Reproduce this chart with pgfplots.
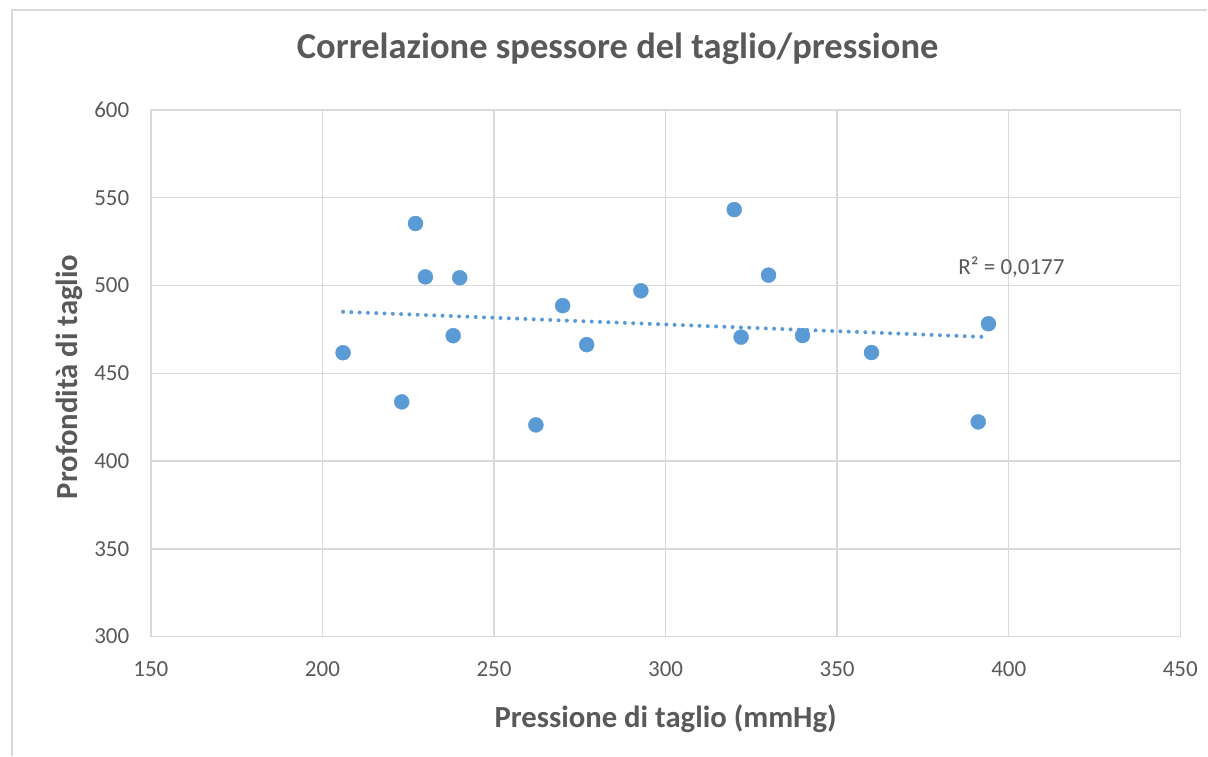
\documentclass[border=0pt]{standalone}
\usepackage{pgfplots}
\pgfplotsset{compat=1.18}
\usepackage{fontspec}
\setmainfont{Carlito}
\definecolor{txt}{HTML}{595959}
\definecolor{grd}{HTML}{D9D9D9}
\definecolor{blu}{HTML}{5B9BD5}
\begin{document}
\begin{tikzpicture}
\begin{axis}[
  scale only axis, width=1030pt, height=527pt,
  xmin=150, xmax=450, ymin=300, ymax=600,
  xtick={150,200,...,450}, ytick={300,350,...,600},
  grid=major, major grid style={grd, line width=1.5pt},
  axis line style={grd, line width=1.5pt},
  tick style={draw=none},
  /pgf/number format/assume math mode=true,
  ticklabel style={font=\fontsize{23}{27}\selectfont, text=txt},
  xticklabel style={anchor=base, yshift=-39.5pt},
  yticklabel style={anchor=east, inner xsep=0pt, xshift=-21.5pt},
  title={Correlazione spessore del taglio/pressione},
  title style={font=\fontsize{36.5}{42}\selectfont\bfseries, text=txt, at={(0.4534,1.0854)}, anchor=base},
  xlabel={Pressione di taglio (mmHg)},
  xlabel style={font=\fontsize{30.7}{36}\selectfont\bfseries, text=txt, at={(0.5,-0.1727)}, anchor=base},
  ylabel={Profondità di taglio},
  ylabel style={font=\fontsize{30.7}{36}\selectfont\bfseries, text=txt, at={(-0.0718,0.493)}, anchor=base, rotate=0},
  clip=false,
]
\path (rel axis cs:-0.1466,-0.2258) rectangle (rel axis cs:1.0262,1.2087);
\draw[grd, line width=1.5pt] (rel axis cs:-0.1350,-0.2258) -- (rel axis cs:-0.1350,1.1898) -- (rel axis cs:1.0262,1.1898);
\addplot[only marks, mark=*, mark size=7.5pt, mark options={fill=blu, draw=blu}] coordinates {
(206.0,461.7) (227.1,535.3) (230.0,504.9) (240.0,504.4) (238.1,471.4)
(223.1,433.7) (262.2,420.6) (270.0,488.5) (277.0,466.3) (292.8,497.0)
(320.0,543.2) (330.0,505.9) (322.0,470.6) (339.9,471.5) (360.0,461.8)
(394.1,478.2) (391.1,422.3)
};
\addplot[blu, line width=4pt, line cap=round, dash pattern=on 0pt off 8.3pt] coordinates {(206,485.0) (394,470.6)};
\node[anchor=west, inner xsep=0pt, font=\fontsize{23}{27}\selectfont, text=txt] at (axis cs:385.3,510.6) {R² = 0,0177};
\end{axis}
\end{tikzpicture}
\end{document}
